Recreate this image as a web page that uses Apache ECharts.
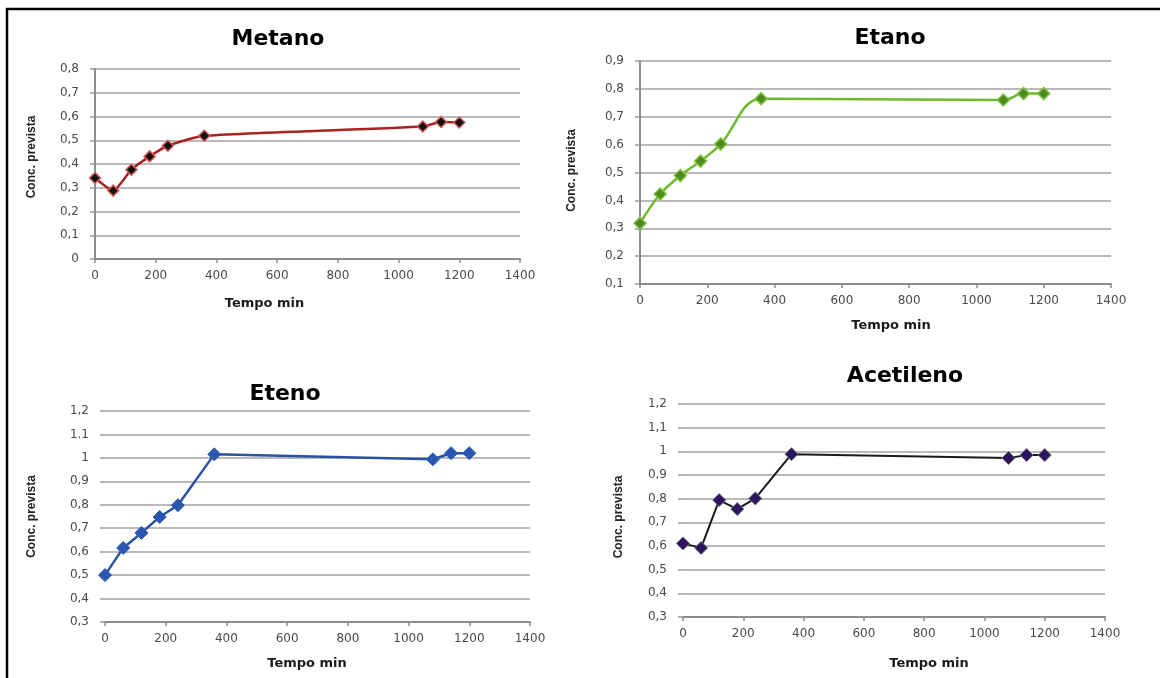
<!DOCTYPE html>
<html>
<head>
<meta charset="utf-8">
<script src="https://cdn.jsdelivr.net/npm/echarts@6/dist/echarts.min.js"></script>
<style>
html,body{margin:0;padding:0;background:#fff;}
#chart{width:1160px;height:678px;}
</style>
</head>
<body>
<div id="chart"></div>
<script>
// ---- data ----
const tempo = [0, 60, 120, 180, 240, 360, 1080, 1140, 1200];
const metano = [0.341, 0.288, 0.376, 0.432, 0.477, 0.519, 0.558, 0.577, 0.575];
const etano = [0.318, 0.423, 0.489, 0.541, 0.602, 0.765, 0.760, 0.783, 0.783];
const eteno = [0.500, 0.616, 0.680, 0.748, 0.798, 1.015, 0.994, 1.020, 1.020];
const acetileno = [0.611, 0.592, 0.794, 0.756, 0.801, 0.988, 0.972, 0.984, 0.984];

const titles = ['Metano', 'Etano', 'Eteno', 'Acetileno'];
const xTickLabels = ['0', '200', '400', '600', '800', '1000', '1200', '1400'];
const metanoYLabels = ['0', '0,1', '0,2', '0,3', '0,4', '0,5', '0,6', '0,7', '0,8'];
const etanoYLabels = ['0,1', '0,2', '0,3', '0,4', '0,5', '0,6', '0,7', '0,8', '0,9'];
const etenoYLabels = ['0,3', '0,4', '0,5', '0,6', '0,7', '0,8', '0,9', '1', '1.1', '1,2'];
const acetilenoYLabels = ['0,3', '0,4', '0,5', '0,6', '0,7', '0,8', '0,9', '1', '1,1', '1,2'];
const xName = 'Tempo min';
const yName = 'Conc. prevista';

function pairs(ys) { return tempo.map((t, i) => [t, ys[i]]); }

const panels = [
  { grid: {left: 95, top: 69, width: 425, height: 190}, ymin: 0, ymax: 0.8, ylabels: metanoYLabels,
    showYLine: true, yGap: 57, yPad: [0,0,0,14], xGap: 38, xPad: [0,86,0,0],
    title: {x: 273, y: 23} },
  { grid: {left: 640, top: 61, width: 471, height: 223}, ymin: 0.1, ymax: 0.9, ylabels: etanoYLabels,
    showYLine: true, yGap: 62, yPad: [0,0,0,4], xGap: 35, xPad: [0,0,0,31],
    title: {x: 885, y: 22} },
  { grid: {left: 105, top: 411, width: 425, height: 211}, ymin: 0.3, ymax: 1.2, ylabels: etenoYLabels,
    showYLine: false, yGap: 67, yPad: [0,0,0,0], xGap: 35, xPad: [0,21,0,0],
    title: {x: 280, y: 378} },
  { grid: {left: 683, top: 404, width: 422, height: 213}, ymin: 0.3, ymax: 1.2, ylabels: acetilenoYLabels,
    showYLine: false, yGap: 58, yPad: [0,13,0,0], xGap: 40, xPad: [0,0,0,70],
    title: {x: 900, y: 360} }
];

const seriesStyles = [
  { smooth: 0.18, line: '#a82222', width: 2.5, symbolSize: 11, fill: '#111111', border: '#d45a5a', bw: 1.5 },
  { smooth: 0.35, line: '#6cbb2c', width: 2.5, symbolSize: 12, fill: '#4f8a1f', border: '#7cc040', bw: 1.5 },
  { smooth: false, line: '#2a52a0', width: 2.5, symbolSize: 13, fill: '#2b57b0', border: '#2b57b0', bw: 1 },
  { smooth: false, line: '#1a1a1a', width: 2, symbolSize: 13, fill: '#2a1660', border: '#6a6a6a', bw: 1 }
];
const seriesData = [metano, etano, eteno, acetileno];

const tickFont = {fontFamily: 'DejaVu Sans', fontSize: 12, color: '#4a4a4a'};

const option = {
  animation: false,
  backgroundColor: '#ffffff',
  title: panels.map((p, i) => ({
    text: titles[i], left: p.title.x, top: p.title.y, textAlign: 'center',
    textStyle: {fontFamily: 'DejaVu Sans', fontWeight: 'bold', fontSize: 22, color: '#000'}
  })),
  grid: panels.map(p => Object.assign({containLabel: false}, p.grid)),
  xAxis: panels.map((p, i) => ({
    type: 'value', gridIndex: i, min: 0, max: 1400, interval: 200,
    name: xName, nameLocation: 'middle', nameGap: p.xGap,
    nameTextStyle: {fontFamily: 'DejaVu Sans', fontWeight: 'bold', fontSize: 13, color: '#1a1a1a', padding: p.xPad},
    axisLine: {show: true, lineStyle: {color: '#8c8c8c', width: 2}},
    axisTick: {show: true, length: 4, lineStyle: {color: '#8c8c8c', width: 1.5}},
    axisLabel: Object.assign({margin: 11, formatter: v => xTickLabels[Math.round(v / 200)]}, tickFont),
    splitLine: {show: false}
  })),
  yAxis: panels.map((p, i) => ({
    type: 'value', gridIndex: i, min: p.ymin, max: p.ymax, interval: 0.1,
    name: yName, nameLocation: 'middle', nameGap: p.yGap, nameRotate: 90,
    nameTextStyle: {fontFamily: 'Liberation Sans', fontWeight: 'bold', fontSize: 12, color: '#222', padding: p.yPad},
    axisLine: {show: p.showYLine, lineStyle: {color: '#8c8c8c', width: 2}},
    axisTick: {show: true, length: 5, lineStyle: {color: '#9a9a9a', width: 1.5}},
    axisLabel: Object.assign({margin: 16, formatter: v => p.ylabels[Math.round((v - p.ymin) / 0.1)]}, tickFont),
    splitLine: {show: true, lineStyle: {color: '#a3a3a3', width: 1.5}}
  })),
  series: seriesData.map((d, i) => {
    const s = seriesStyles[i];
    return {
      type: 'line', xAxisIndex: i, yAxisIndex: i, data: pairs(d),
      smooth: s.smooth, symbol: 'diamond', symbolSize: s.symbolSize,
      lineStyle: {color: s.line, width: s.width},
      itemStyle: {color: s.fill, borderColor: s.border, borderWidth: s.bw},
      emphasis: {disabled: true}
    };
  }),
  graphic: [
    {type: 'line', shape: {x1: 6, y1: 9, x2: 1160, y2: 9}, style: {stroke: '#000', lineWidth: 2.5}},
    {type: 'line', shape: {x1: 7, y1: 8, x2: 7, y2: 678}, style: {stroke: '#000', lineWidth: 2.5}}
  ]
};

const chart = echarts.init(document.getElementById('chart'), null, {renderer: 'canvas'});
chart.setOption(option);
</script>
</body>
</html>
